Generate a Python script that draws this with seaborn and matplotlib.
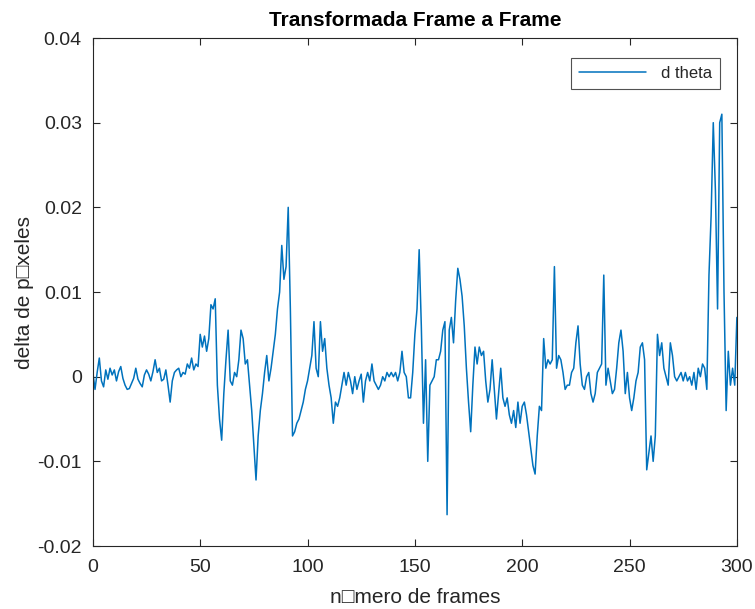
import numpy as np
import pandas as pd
import matplotlib
matplotlib.use("Agg")
import matplotlib.pyplot as plt
import seaborn as sns

# d theta values (x 1e-3), frames 0..300
seg_a = [0.5, -1.5, 0.5, 2.2, -0.5, -1.2, 0.8, -0.3, 1.0, 0.2,
         0.8, -0.5, 0.6, 1.2, -0.2, -1.0, -1.5, -1.4, -0.8, -0.2,
         1.0, -0.3, -0.8, -1.2, 0.2, 0.8, 0.3, -0.5, 0.6, 2.0,
         0.5, 1.0, -0.5, -0.3, 0.8, -1.0, -3.0, -0.5, 0.5, 0.8,
         1.0, 0.0, 0.5, 0.3, 1.5, 1.0, 2.2, 0.8, 1.5, 1.2]            # 0-49
seg_b = [5.0, 3.5, 4.8, 3.0, 4.5, 8.5, 8.0, 9.2, -1.0, -5.0,
         -7.5, -2.0, 2.0, 5.5, -0.5, -1.0, 0.5, 0.0, 2.0, 5.5,
         4.5, 1.5, 2.0, -1.0, -4.0, -8.0, -12.2, -7.0, -4.0, -2.0,
         0.5, 2.5, -0.5, 1.0, 3.0, 5.0, 8.0, 10.0, 15.5, 11.5,
         13.0, 20.0, 8.0, -7.0, -6.5, -5.5, -5.0, -4.0, -3.0, -1.5]   # 50-99
seg_c = [-0.5, 1.0, 2.5, 6.5, 1.0, 0.0, 6.5, 3.0, 4.5, 1.0,
         -1.0, -2.5, -5.5, -3.0, -3.5, -2.5, -1.0, 0.5, -1.0, 0.5,
         -0.5, -2.0, 0.0, -1.5, -0.5, 0.3, -3.0, -0.5, 0.5, -0.5,
         1.5, -0.5, -1.0, -1.5, -1.0, 0.0, -0.5, 0.5, 0.0, 0.5,
         0.0, 0.5, -0.5, 0.5, 3.0, 0.5, 0.0, -2.5, -2.5, 0.5]         # 100-149
seg_d = [5.0, 8.0, 15.0, 6.0, -5.5, 2.0, -10.0, -1.0, -0.5, 0.0,
         2.0, 2.0, 3.0, 5.5, 6.5, -16.3, 5.5, 7.0, 4.0, 9.0,
         12.8, 11.5, 9.5, 6.0, 1.0, -3.0, -6.5, -1.0, 3.5, 1.5,
         3.5, 2.5, 3.0, -0.5, -3.0, -1.5, 2.0, -1.5, -5.0, -2.0,
         1.0, -2.5, -3.5, -2.5, -4.5, -5.5, -4.0, -6.0, -3.0, -5.5]   # 150-199
seg_e = [-3.5, -3.0, -4.5, -6.5, -8.5, -10.5, -11.5, -7.0, -3.5, -4.0,
         4.5, 1.0, 2.0, 1.5, 2.0, 13.0, 1.0, 2.5, 2.0, 0.5,
         -1.5, -1.0, -1.0, 0.5, 1.0, 4.0, 6.0, 1.5, -1.0, -1.5,
         0.0, 0.5, -2.0, -3.0, -2.0, 0.5, 1.0, 1.5, 12.0, -1.0,
         1.0, -0.5, -2.0, -1.5, 1.0, 4.0, 5.5, 3.0, -2.0, 0.5]        # 200-249
seg_f = [-2.5, -4.0, -2.5, -0.5, 0.5, 3.5, 4.0, 2.0, -11.0, -9.0,
         -7.0, -10.0, -7.0, 5.0, 2.5, 4.0, 1.0, 0.0, -1.0, 4.0,
         2.5, 0.0, -0.5, 0.0, 0.5, -0.5, 0.5, -0.5, 0.0, -1.0,
         0.5, -1.5, 1.0, 0.0, 1.5, 1.0, -1.5, 12.0, 19.0, 30.0,
         22.0, 8.0, 30.0, 31.0, 10.0, -4.0, 3.0, -1.0, 1.0, -1.0,
         7.0]                                                         # 250-300

values = np.array(seg_a + seg_b + seg_c + seg_d + seg_e + seg_f) * 1e-3
frames = np.arange(len(values))
df = pd.DataFrame({"frame": frames, "d theta": values})

sns.set_style("white")
plt.rcParams["font.family"] = ["Liberation Sans", "DejaVu Sans"]

fig = plt.figure(figsize=(7.55, 6.09), dpi=100)
ax = fig.add_axes([0.123, 0.1034, 0.853, 0.8342])

sns.lineplot(data=df, x="frame", y="d theta", ax=ax, color="#0072BD",
             linewidth=1.1, label="d theta")

ax.set_xlim(0, 300)
ax.set_ylim(-0.02, 0.04)
ax.set_xticks([0, 50, 100, 150, 200, 250, 300])
ax.set_yticks([-0.02, -0.01, 0, 0.01, 0.02, 0.03, 0.04])
ax.set_yticklabels(["-0.02", "-0.01", "0", "0.01", "0.02", "0.03", "0.04"])

gray = "#262626"
for s in ax.spines.values():
    s.set_visible(True)
    s.set_color(gray)
    s.set_linewidth(0.8)
ax.tick_params(direction="in", length=5, width=0.8, colors=gray,
               labelsize=14, top=True, right=True, bottom=True, left=True,
               labelcolor=gray)
ax.tick_params(axis="x", pad=9)
ax.tick_params(axis="y", pad=8)

ax.set_title("Transformada Frame a Frame", fontsize=15, fontweight="bold",
             color="black", pad=9)
ax.set_xlabel("n\u25a1mero de frames", fontsize=15, color=gray, labelpad=9)
ax.set_ylabel("delta de p\u25a1xeles", fontsize=15, color=gray, labelpad=2)

leg = ax.legend(loc="upper right", fontsize=12, frameon=True, fancybox=False,
                edgecolor=gray, handlelength=4.0, handletextpad=0.9,
                borderpad=0.5, borderaxespad=0,
                bbox_to_anchor=(0.974, 0.961))
leg.get_frame().set_linewidth(0.8)

fig.savefig("out.png", dpi=100)
